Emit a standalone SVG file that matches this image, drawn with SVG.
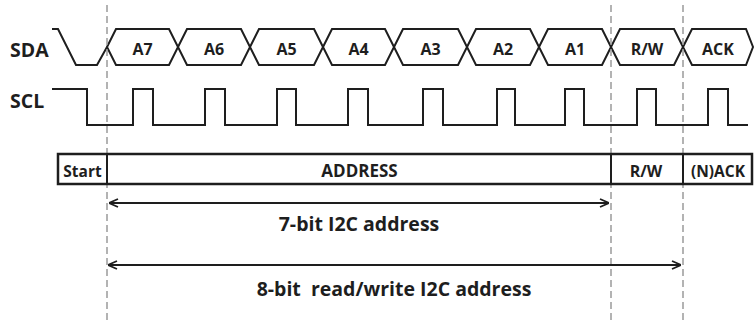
<svg xmlns="http://www.w3.org/2000/svg" width="755" height="321" viewBox="0 0 755 321">
<style>
text{font-family:"Open Sans","Liberation Sans",sans-serif;font-weight:bold;fill:#1e1e1e}
.sig{fill:none;stroke:#1e1e1e;stroke-width:2;stroke-linejoin:miter}
.hex{fill:#fff;stroke:#1e1e1e;stroke-width:2}
.lbl{font-size:19.5px}
.bit{font-size:16px;text-anchor:middle}
.fld{text-anchor:middle}
.frame{fill:#fff;stroke:#1e1e1e;stroke-width:2.5}
.div{stroke:#1e1e1e;stroke-width:2}
.guide{stroke:#9a9a9a;stroke-width:1.5;stroke-dasharray:7 4;fill:none}
.arr{stroke:#1e1e1e;stroke-width:2;fill:none;marker-start:url(#ah);marker-end:url(#ah)}
.cap{font-size:19.5px;text-anchor:middle}
</style>
<defs>
<marker id="ah" viewBox="0 0 10 10" refX="10" refY="5" markerWidth="10" markerHeight="10" markerUnits="userSpaceOnUse" orient="auto-start-reverse">
<path d="M1,1 L10,5 L1,9" fill="none" stroke="#1e1e1e" stroke-width="1.8"/>
</marker>
</defs>

<g id="signal-labels">
<text class="lbl" x="10" y="57">SDA</text>
<text class="lbl" x="10" y="108">SCL</text>
</g>

<g id="sda">
<path class="sig" d="M52,29 L58,29 L76,65 L97,65 L107,47"/>
<g id="bit-a7"><path class="hex" d="M107,47 L116,29 L169,29 L178,47 L169,65 L116,65 Z"/><text class="bit" x="142.5" y="55">A7</text></g>
<g id="bit-a6"><path class="hex" d="M178,47 L187,29 L241,29 L250,47 L241,65 L187,65 Z"/><text class="bit" x="214" y="55">A6</text></g>
<g id="bit-a5"><path class="hex" d="M250,47 L259,29 L314,29 L323,47 L314,65 L259,65 Z"/><text class="bit" x="286.5" y="55">A5</text></g>
<g id="bit-a4"><path class="hex" d="M323,47 L332,29 L385,29 L394,47 L385,65 L332,65 Z"/><text class="bit" x="358.5" y="55">A4</text></g>
<g id="bit-a3"><path class="hex" d="M394,47 L403,29 L458,29 L467,47 L458,65 L403,65 Z"/><text class="bit" x="430.5" y="55">A3</text></g>
<g id="bit-a2"><path class="hex" d="M467,47 L476,29 L530,29 L539,47 L530,65 L476,65 Z"/><text class="bit" x="503" y="55">A2</text></g>
<g id="bit-a1"><path class="hex" d="M539,47 L548,29 L602,29 L611,47 L602,65 L548,65 Z"/><text class="bit" x="575" y="55">A1</text></g>
<g id="bit-rw"><path class="hex" d="M611,47 L620,29 L674,29 L683,47 L674,65 L620,65 Z"/><text class="bit" x="647" y="55">R/W</text></g>
<g id="bit-ack"><path class="hex" d="M683,47 L692,29 L746,29 L753,47 L746,65 L692,65 Z"/><text class="bit" x="718" y="55">ACK</text></g>
</g>

<g id="scl">
<path class="sig" d="M52,89 L87,89 L87,125 L133,125 L133,89 L153,89 L153,125 L205,125 L205,89 L225,89 L225,125 L277,125 L277,89 L296,89 L296,125 L348,125 L348,89 L368,89 L368,125 L423,125 L423,89 L443,89 L443,125 L497,125 L497,89 L515,89 L515,125 L565,125 L565,89 L584,89 L584,125 L637,125 L637,89 L656,89 L656,125 L708,125 L708,89 L728,89 L728,125 L748,125"/>
</g>

<g id="guides">
<line class="guide" x1="107" y1="5" x2="107" y2="321"/>
<line class="guide" x1="611" y1="5" x2="611" y2="321"/>
<line class="guide" x1="683" y1="5" x2="683" y2="321"/>
</g>

<g id="frame">
<rect class="frame" x="58" y="154" width="694" height="30"/>
<g id="field-start"><text class="fld" x="82.5" y="177" font-size="15.5">Start</text></g>
<g id="field-address"><line class="div" x1="107" y1="154" x2="107" y2="184"/><text class="fld" x="359.5" y="177" font-size="17">ADDRESS</text></g>
<g id="field-rw"><line class="div" x1="611" y1="154" x2="611" y2="184"/><text class="fld" x="646" y="177" font-size="16">R/W</text></g>
<g id="field-ack"><line class="div" x1="683" y1="154" x2="683" y2="184"/><text class="fld" x="718" y="177" font-size="15.5">(N)ACK</text></g>
</g>

<g id="connectors">
<line class="arr" x1="109" y1="203" x2="609" y2="203"/>
<line class="arr" x1="108" y1="265" x2="681" y2="265"/>
</g>

<g id="captions">
<text class="cap" x="359" y="231">7-bit I2C address</text>
<text class="cap" x="394" y="296" xml:space="preserve" style="white-space:pre">8-bit  read/write I2C address</text>
</g>
</svg>
